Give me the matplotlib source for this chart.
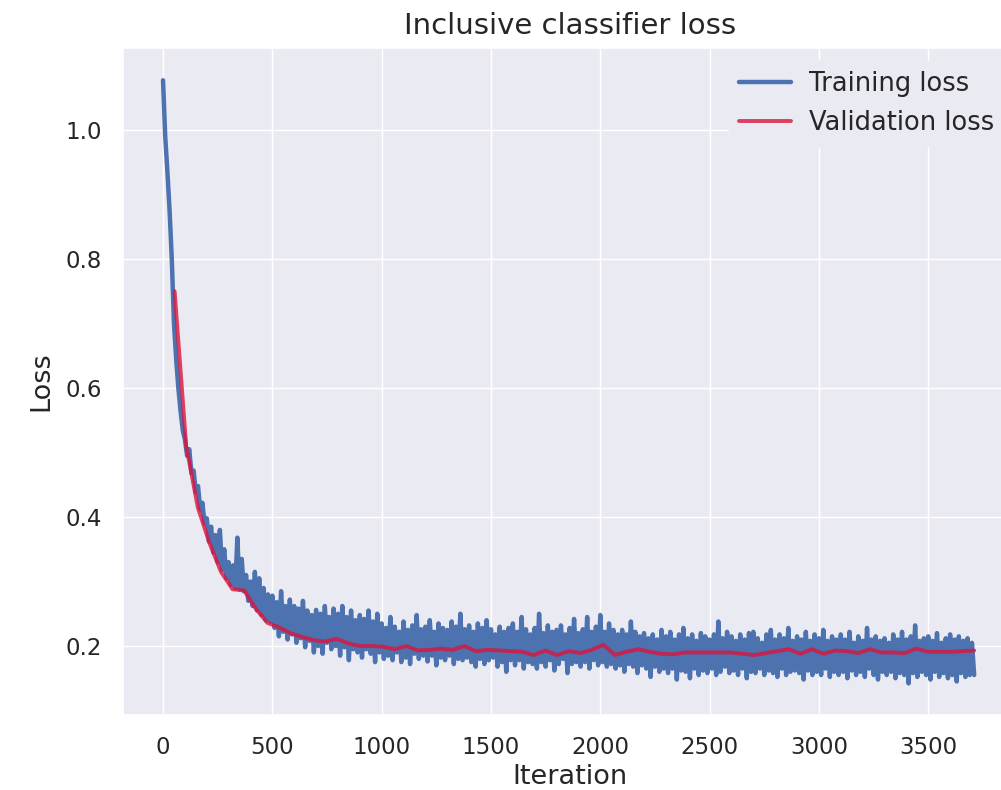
import matplotlib
matplotlib.use("Agg")
import matplotlib.pyplot as plt
import seaborn as sns
import numpy as np

# Training loss, logged every 10 iterations (0 .. 3710)
train_step = 10
train_loss = [
    1.077, 0.990, 0.935, 0.875, 0.800, 0.700, 0.645, 0.600, 0.565, 0.535,
    0.520, 0.495, 0.505, 0.468, 0.472, 0.438, 0.448, 0.412, 0.422, 0.390,
    0.398, 0.362, 0.385, 0.345, 0.372, 0.330, 0.380, 0.318, 0.350, 0.305,
    0.330, 0.295, 0.325, 0.290, 0.368, 0.288, 0.335, 0.285, 0.310, 0.270,
    0.300, 0.262, 0.315, 0.255, 0.305, 0.248, 0.290, 0.240, 0.280, 0.238,
    0.278, 0.228, 0.268, 0.215, 0.285, 0.222, 0.262, 0.210, 0.272, 0.218,
    0.262, 0.205, 0.258, 0.212, 0.270, 0.198, 0.255, 0.208, 0.248, 0.190,
    0.256, 0.200, 0.250, 0.188, 0.262, 0.205, 0.245, 0.195, 0.258, 0.200,
    0.250, 0.185, 0.262, 0.198, 0.245, 0.178, 0.255, 0.195, 0.240, 0.190,
    0.248, 0.182, 0.242, 0.195, 0.255, 0.188, 0.238, 0.175, 0.250, 0.190,
    0.235, 0.180, 0.228, 0.185, 0.245, 0.178, 0.230, 0.190, 0.222, 0.175,
    0.238, 0.182, 0.225, 0.172, 0.232, 0.188, 0.248, 0.180, 0.226, 0.185,
    0.230, 0.176, 0.240, 0.185, 0.222, 0.170, 0.235, 0.182, 0.228, 0.178,
    0.225, 0.185, 0.238, 0.172, 0.230, 0.180, 0.250, 0.178, 0.226, 0.182,
    0.232, 0.175, 0.222, 0.168, 0.235, 0.180, 0.228, 0.172, 0.240, 0.178,
    0.226, 0.182, 0.218, 0.168, 0.230, 0.175, 0.222, 0.160, 0.228, 0.178,
    0.235, 0.170, 0.222, 0.178, 0.245, 0.165, 0.226, 0.175, 0.218, 0.172,
    0.228, 0.165, 0.250, 0.175, 0.220, 0.168, 0.232, 0.178, 0.222, 0.162,
    0.225, 0.172, 0.232, 0.180, 0.218, 0.158, 0.228, 0.172, 0.242, 0.175,
    0.220, 0.168, 0.226, 0.175, 0.245, 0.165, 0.222, 0.178, 0.230, 0.170,
    0.248, 0.175, 0.222, 0.168, 0.235, 0.172, 0.225, 0.165, 0.218, 0.170,
    0.225, 0.160, 0.218, 0.172, 0.238, 0.168, 0.222, 0.158, 0.215, 0.170,
    0.220, 0.165, 0.212, 0.152, 0.218, 0.168, 0.210, 0.160, 0.225, 0.165,
    0.215, 0.158, 0.222, 0.165, 0.210, 0.148, 0.218, 0.162, 0.228, 0.160,
    0.212, 0.150, 0.218, 0.165, 0.208, 0.155, 0.220, 0.162, 0.215, 0.158,
    0.210, 0.165, 0.218, 0.155, 0.238, 0.160, 0.212, 0.168, 0.222, 0.158,
    0.215, 0.162, 0.208, 0.155, 0.218, 0.165, 0.210, 0.150, 0.220, 0.160,
    0.222, 0.158, 0.212, 0.165, 0.205, 0.155, 0.218, 0.162, 0.225, 0.158,
    0.210, 0.152, 0.218, 0.165, 0.212, 0.155, 0.228, 0.160, 0.208, 0.162,
    0.215, 0.158, 0.210, 0.148, 0.222, 0.162, 0.208, 0.155, 0.218, 0.160,
    0.212, 0.155, 0.225, 0.165, 0.208, 0.152, 0.215, 0.160, 0.210, 0.155,
    0.218, 0.160, 0.210, 0.150, 0.222, 0.162, 0.205, 0.155, 0.215, 0.160,
    0.208, 0.152, 0.228, 0.165, 0.210, 0.155, 0.215, 0.148, 0.208, 0.160,
    0.212, 0.155, 0.205, 0.160, 0.218, 0.150, 0.210, 0.158, 0.222, 0.155,
    0.210, 0.142, 0.215, 0.158, 0.232, 0.152, 0.208, 0.160, 0.212, 0.155,
    0.215, 0.148, 0.208, 0.160, 0.220, 0.152, 0.205, 0.158, 0.212, 0.150,
    0.218, 0.155, 0.210, 0.145, 0.215, 0.158, 0.208, 0.152, 0.212, 0.155,
    0.205, 0.155,
]

# Validation loss, evaluated once per epoch (53 iterations)
val_step = 53
val_loss = [
    0.750, 0.510, 0.415, 0.360, 0.315, 0.288, 0.286, 0.258, 0.236, 0.229,
    0.220, 0.214, 0.209, 0.207, 0.211, 0.204, 0.200, 0.200, 0.199, 0.195,
    0.200, 0.193, 0.194, 0.196, 0.194, 0.200, 0.192, 0.194, 0.193, 0.192,
    0.191, 0.186, 0.193, 0.186, 0.192, 0.189, 0.194, 0.202, 0.186, 0.191,
    0.195, 0.191, 0.188, 0.187, 0.190, 0.190, 0.190, 0.190, 0.190, 0.188,
    0.186, 0.189, 0.192, 0.195, 0.188, 0.195, 0.188, 0.193, 0.192, 0.189,
    0.195, 0.190, 0.190, 0.189, 0.196, 0.191, 0.191, 0.191, 0.192, 0.193,
]

train_iter = np.arange(len(train_loss)) * train_step
val_iter = np.arange(1, len(val_loss) + 1) * val_step

sns.set_theme(style="darkgrid")
plt.rcParams["font.family"] = ["DejaVu Sans"]
text_color = "#262626"

fig = plt.figure(figsize=(10.01, 7.9), dpi=100)
# the plot area runs a little past the right edge of the figure
ax = fig.add_axes([0.1229, 0.0949, 0.8931, 0.8443])

ax.plot(train_iter, train_loss, color="#4C72B0", lw=3.2, label="Training loss")
ax.plot(val_iter, val_loss, color="crimson", alpha=0.8, lw=2.8, label="Validation loss")

ax.set_xlim(-183, 3906)
ax.set_ylim(0.093, 1.127)
ax.set_xticks([0, 500, 1000, 1500, 2000, 2500, 3000, 3500])
ax.set_yticks([0.2, 0.4, 0.6, 0.8, 1.0])
ax.tick_params(axis="both", labelsize=16.5, colors=text_color, pad=9)

ax.set_title("Inclusive classifier loss", fontsize=21, color=text_color, pad=10)
ax.set_xlabel("Iteration", fontsize=19.5, color=text_color, labelpad=4)
ax.set_ylabel("Loss", fontsize=19.5, color=text_color, labelpad=8)

leg = ax.legend(loc="upper right", fontsize=18.5, frameon=True,
                facecolor="#EAEAF2", edgecolor="#EAEAF2", framealpha=1,
                handletextpad=0.7, borderaxespad=0.5)
for t in leg.get_texts():
    t.set_color(text_color)

fig.savefig("out.png", dpi=100)
